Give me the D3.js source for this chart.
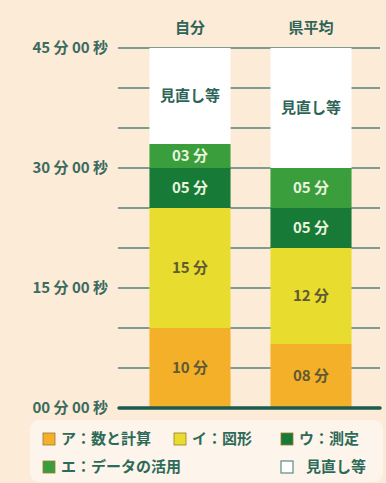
<!DOCTYPE html>
<html>
<head>
<meta charset="utf-8">
<script src="https://cdn.jsdelivr.net/npm/d3@7"></script>
<style>
  body { margin: 0; background: #fcebd6; }
  svg { display: block; font-family: "Noto Sans CJK JP", "Noto Sans", sans-serif; font-weight: 700; }
</style>
</head>
<body>
<div id="chart"></div>
<script>
// data
var categories = ["自分", "県平均"]
var keys = ["ア", "イ", "ウ", "エ", "見直し等"]
var selfMinutes = [10, 15, 5, 3, 12]
var prefMinutes = [8, 12, 5, 5, 15]
var yTicks = [0, 15, 30, 45]
var yTickLabels = ["00 分 00 秒", "15 分 00 秒", "30 分 00 秒", "45 分 00 秒"]
var legendLabels = ["ア：数と計算", "イ：図形", "ウ：測定", "エ：データの活用", "見直し等"]

var colours = ["#f5b02a", "#e8dc2e", "#177a36", "#3a9e3c", "#ffffff"]
var textColours = ["#5f5a34", "#5f5a34", "#e9f3df", "#e9f3df", "#2e6458"]

let WD = 386, HT = 483

var rows = categories.map(function(c, i) {
  var vals = i == 0 ? selfMinutes : prefMinutes
  var r = { cat: c }
  keys.forEach(function(k, j) { r[k] = vals[j] })
  return r
})

var stacked = d3.stack().keys(keys)(rows)

var ys = d3.scaleLinear().domain([0, 45]).range([408, 48])
var xs = d3.scaleBand().domain(categories).range([129.5, 371.5]).paddingInner(0.33).paddingOuter(0.165)

var svg = d3.select("#chart").append("svg")
  .attr("width", WD)
  .attr("height", HT)

svg.append("rect").attr("width", WD).attr("height", HT).attr("fill", "#fcebd6")

// gridlines every 5 minutes
svg.append("g").selectAll("line")
  .data(d3.range(5, 46, 5))
  .enter().append("line")
    .attr("x1", 118).attr("x2", 380)
    .attr("y1", d => ys(d)).attr("y2", d => ys(d))
    .attr("stroke", "#54827a")
    .attr("stroke-width", 1.6)

// bars
var layer = svg.append("g").selectAll("g")
  .data(stacked)
  .enter().append("g")
    .attr("fill", (d, i) => colours[i])

layer.selectAll("rect")
  .data(d => d)
  .enter().append("rect")
    .attr("x", d => xs(d.data.cat))
    .attr("width", xs.bandwidth())
    .attr("y", d => ys(d[1]))
    .attr("height", d => ys(d[0]) - ys(d[1]))

// segment labels
stacked.forEach(function(s, i) {
  svg.append("g").selectAll("text")
    .data(s)
    .enter().append("text")
      .attr("x", d => xs(d.data.cat) + xs.bandwidth() / 2)
      .attr("y", d => ys((d[0] + d[1]) / 2))
      .attr("dy", "0.36em")
      .attr("text-anchor", "middle")
      .attr("font-size", "15px")
      .attr("fill", textColours[i])
      .text(function(d) {
        if (s.key == "見直し等") return "見直し等"
        return d3.format("02d")(d[1] - d[0]) + " 分"
      })
})

// base axis line
svg.append("line")
  .attr("x1", 119).attr("x2", 380)
  .attr("y1", ys(0)).attr("y2", ys(0))
  .attr("stroke", "#1c5a50")
  .attr("stroke-width", 3.5)
  .attr("stroke-linecap", "round")

// y labels
svg.append("g").selectAll("text")
  .data(yTicks)
  .enter().append("text")
    .attr("x", 108)
    .attr("y", d => ys(d))
    .attr("dy", "0.36em")
    .attr("text-anchor", "end")
    .attr("font-size", "15px")
    .attr("fill", "#3b6a60")
    .text((d, i) => yTickLabels[i])

// column headers
svg.append("g").selectAll("text")
  .data(categories)
  .enter().append("text")
    .attr("x", d => xs(d) + xs.bandwidth() / 2)
    .attr("y", 33)
    .attr("text-anchor", "middle")
    .attr("font-size", "15px")
    .attr("fill", "#2e6458")
    .text(d => d)

// legend
svg.append("rect")
  .attr("x", 30).attr("y", 420)
  .attr("width", 353).attr("height", 62)
  .attr("rx", 9)
  .attr("fill", "#fdf5ec")

var legendPos = [[43, 439], [174, 439], [281, 439], [43, 467], [281, 467]]
var legendTextX = [61, 192, 299, 61, 306]

var lg = svg.append("g").selectAll("g")
  .data(legendLabels)
  .enter().append("g")

lg.append("rect")
  .attr("x", (d, i) => legendPos[i][0])
  .attr("y", (d, i) => legendPos[i][1] - 6)
  .attr("width", 12).attr("height", 12)
  .attr("fill", (d, i) => colours[i])
  .attr("stroke", (d, i) => i == 4 ? "#5f8a80" : "#9a7a30")
  .attr("stroke-width", (d, i) => i == 4 ? 1.2 : 0.8)

lg.append("text")
  .attr("x", (d, i) => legendTextX[i])
  .attr("y", (d, i) => legendPos[i][1])
  .attr("dy", "0.36em")
  .attr("font-size", "15px")
  .attr("fill", "#2e6a58")
  .text(d => d)
</script>
</body>
</html>
